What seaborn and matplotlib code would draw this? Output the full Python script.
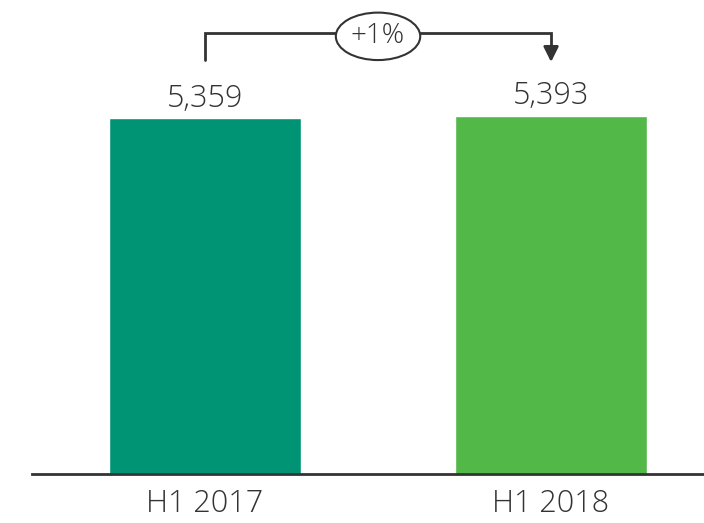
import matplotlib
matplotlib.use("Agg")
import matplotlib.pyplot as plt
import seaborn as sns
import pandas as pd

# data
periods = ["H1 2017", "H1 2018"]
values = [5359, 5393]
value_labels = ["5,359", "5,393"]
bar_colors = ["#009474", "#52b848"]
change_label = "+1%"

sns.set_style("white")
plt.rcParams["font.family"] = ["Open Sans", "DejaVu Sans"]

df = pd.DataFrame({"period": periods, "value": values})

fig = plt.figure(figsize=(7.04, 5.23), dpi=100)
ax = fig.add_axes([32 / 704, 49 / 523, 672 / 704, 474 / 523])

sns.barplot(data=df, x="period", y="value", hue="period", palette=bar_colors,
            width=0.555, legend=False, ax=ax, saturation=1)

ax.set_xlim(-0.5, 1.442)
ax.set_ylim(0, 7135)
ax.set_xlabel("")
ax.set_ylabel("")
ax.set_yticks([])
for s in ["top", "right", "left"]:
    ax.spines[s].set_visible(False)
ax.spines["bottom"].set_color("#333333")
ax.spines["bottom"].set_linewidth(2)
ax.tick_params(axis="x", length=0, pad=10, labelsize=22, labelcolor="#333333")
for t in ax.get_xticklabels():
    t.set_fontweight("light")

# value labels
for i, (v, lab) in enumerate(zip(values, value_labels)):
    ax.text(i, v + 50, lab, ha="center", va="bottom", fontsize=22,
            color="#333333", fontweight="light")

# change bracket
y_top = 6638
ax.plot([0, 0, 1, 1], [6232, y_top, y_top, 6420], color="#333333", lw=2,
        solid_joinstyle="miter", clip_on=False)
ax.annotate("", xy=(1, 6202), xytext=(1, 6440),
            arrowprops=dict(arrowstyle="-|>,head_width=0.45,head_length=0.9",
                            color="#333333", lw=2, shrinkA=0, shrinkB=0),
            annotation_clip=False)
ax.text(0.5, y_top - 50, change_label, ha="center", va="center", fontsize=20,
        color="#333333", fontweight="light",
        bbox=dict(boxstyle="ellipse,pad=0.1", fc="white", ec="#333333", lw=1.5))

fig.savefig("out.png", dpi=100)
